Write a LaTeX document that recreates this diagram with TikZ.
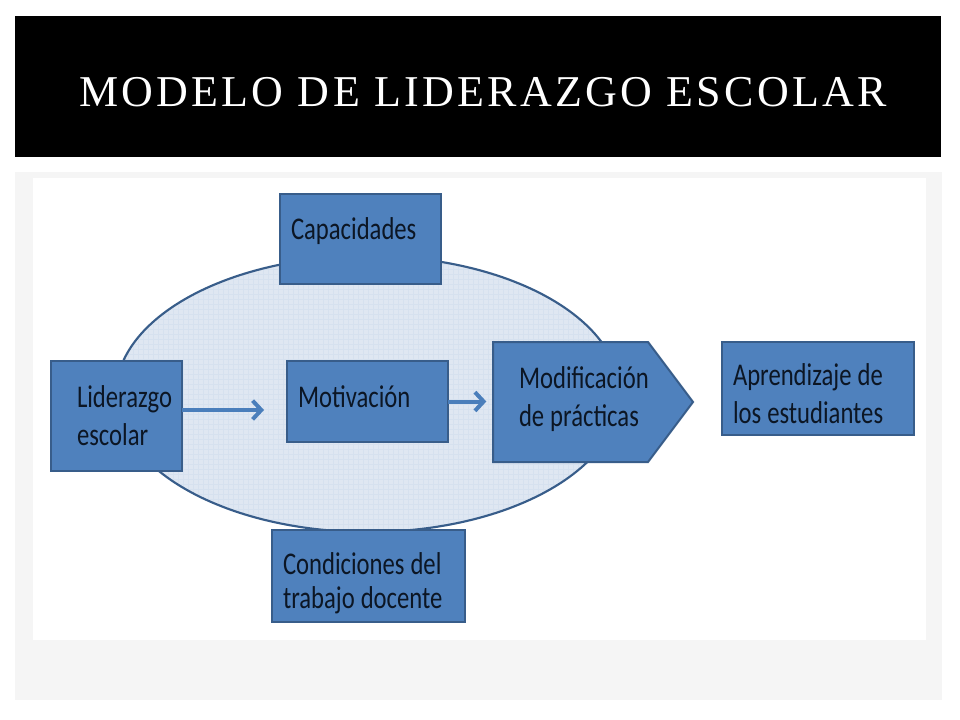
\documentclass[tikz,border=0pt]{standalone}
\usepackage{fontspec}
\setmainfont{Carlito}[FakeStretch=0.78]
\newfontfamily\titlefont{Liberation Serif}[LetterSpace=7.5]
\usetikzlibrary{arrows.meta,shapes.geometric}

\definecolor{cajaazul}{HTML}{4F81BD}
\definecolor{bordeazul}{HTML}{385D8A}
\definecolor{fondoelipse}{HTML}{DFE7F2}
\definecolor{rejilla}{HTML}{D6E1EF}
\definecolor{flechaazul}{HTML}{4A7EBB}
\definecolor{panelgris}{HTML}{F5F5F5}
\definecolor{textocaja}{HTML}{0C1624}

\tikzset{
  caja/.style={draw=bordeazul, fill=cajaazul, line width=1.5pt, anchor=north west,
    inner xsep=11*0.75pt, inner ysep=0pt, outer sep=0pt, align=left,
    text=textocaja, font=\fontsize{23.7}{28.5}\selectfont, text height=46*0.75pt,
    execute at begin node={\spaceskip=0.19em plus 0.05em\relax}},
  flecha/.style={draw=flechaazul, line width=3pt, -{Straight Barb[length=6.5pt,width=14pt]}},
}

\begin{document}
\begin{tikzpicture}[x=0.75pt,y=-0.75pt]
% Fondo de la diapositiva
\fill[white] (0,0) rectangle (960,720);
\fill[black] (15,16) rectangle (941,157);
\fill[panelgris] (15,172) rectangle (942,700);
\fill[white] (33,178) rectangle (926,640);

% Titulo
\node[anchor=base, text=white, font=\titlefont\fontsize{33}{33}\selectfont] (titulo) at (483,107) {MODELO DE LIDERAZGO ESCOLAR};

% Elipse de fondo
\node[ellipse, draw=bordeazul, line width=1.6pt, fill=fondoelipse, minimum width=504*0.75pt, minimum height=276*0.75pt,
  path picture={\draw[rejilla, line width=0.25pt] (path picture bounding box.south west) grid[step=5*0.75pt] (path picture bounding box.north east);}]
  (entorno) at (368,394) {};

% Flecha pentagonal
\filldraw[fill=cajaazul, draw=bordeazul, line width=1.5pt] (493,342) -- (648,342) -- (693,402) -- (648,462) -- (493,462) -- cycle;

% Cajas
\node[caja, text width=139*0.75pt, text depth=44*0.75pt] (capac) at (280,194) {Capacidades};
\node[caja, inner xsep=26*0.75pt, text width=79*0.75pt, text depth=64*0.75pt] (lider) at (51,361) {Liderazgo\\escolar};
\node[caja, text width=139*0.75pt, text depth=35*0.75pt] (motiv) at (287,361) {Motivación};
\node[caja, draw=none, fill=none, inner xsep=26*0.75pt, text width=148*0.75pt, text depth=74*0.75pt] (modif) at (493,342) {Modificación\\de prácticas};
\node[caja, text width=170*0.75pt, text height=43*0.75pt, text depth=50*0.75pt] (aprend) at (722,342) {Aprendizaje de\\los estudiantes};
\node[caja, text width=171*0.75pt, text height=44*0.75pt, text depth=48*0.75pt,
  font=\fontsize{23.7}{26.2}\selectfont] (condic) at (272,530) {Condiciones del\\trabajo docente};

% Conectores
\coordinate (punta) at (264,410);
\draw[flecha] (lider.east |- punta) -- (punta);
\draw[flecha, shorten >=5pt] (motiv.east) -- (modif.west |- motiv.east);
\end{tikzpicture}
\end{document}
